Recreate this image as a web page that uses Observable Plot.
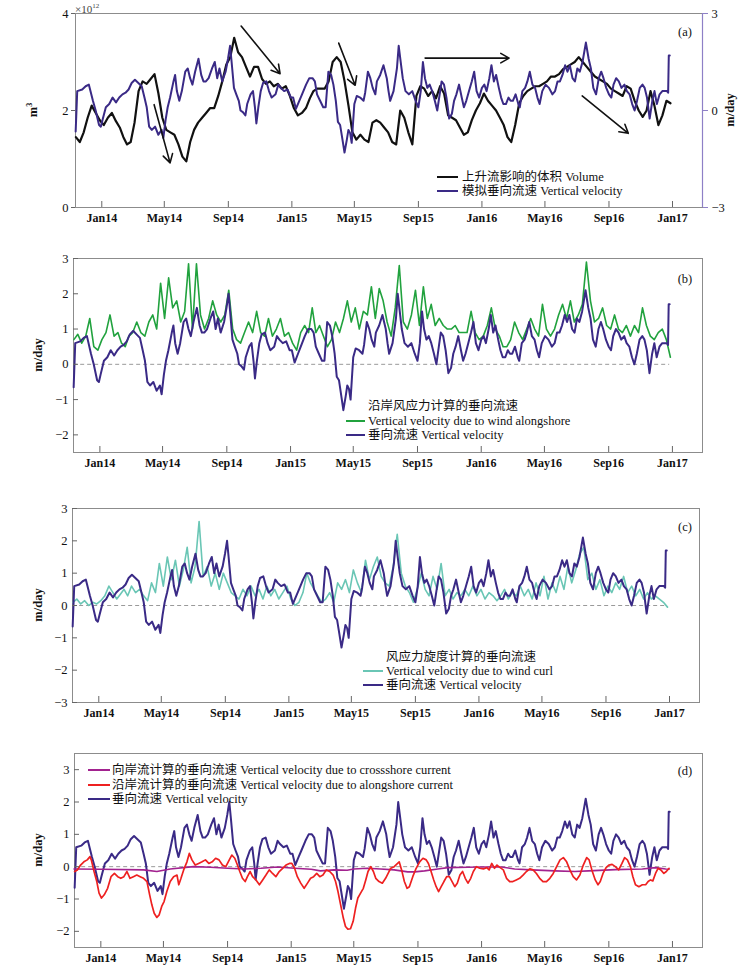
<!DOCTYPE html>
<html><head><meta charset="utf-8">
<script src="https://cdn.jsdelivr.net/npm/d3@7"></script>
<script src="https://cdn.jsdelivr.net/npm/@observablehq/plot@0.6"></script>
<style>
body{margin:0;background:#fff;}
#fig{position:relative;width:750px;height:973px;overflow:hidden;font-family:"Liberation Serif","Noto Sans CJK SC",serif;color:#111;}
.panel{position:absolute;left:0;}
.t{position:absolute;white-space:nowrap;font-size:12.5px;line-height:14px;}
.sw{display:inline-block;height:0;border-top:2px solid;vertical-align:middle;position:relative;top:-1px;}
.rot{position:absolute;white-space:nowrap;font-weight:bold;font-size:12.5px;transform:translate(-50%,-50%) rotate(-90deg);}
.pl{position:absolute;font-size:12.5px;transform:translate(-50%,-50%);}
</style></head>
<body>
<div id="fig"></div>
<script>
// ---------- time axis ----------
const xTickMonths = [0,4,8,12,16,20,24,28,32,36];
const xTickLabels = ["Jan14","May14","Sep14","Jan15","May15","Sep15","Jan16","May16","Sep16","Jan17"];
const xDomainMonths = [-1.65, 37.95];
// regular grid (months since Jan 2014) used by volume, wind-alongshore and wind-curl series
const gridStart = -1.625, gridStep = 0.25;

// ---------- series ----------
// (a) upwelling-influenced volume, 10^12 m^3
const volumeV = [1.45,1.35,1.55,1.85,2.1,1.95,1.8,1.7,1.85,1.95,
1.78,1.65,1.45,1.3,1.35,1.75,2.4,2.6,2.55,2.65,
2.75,2.35,1.85,1.6,1.55,1.5,1.3,1.05,0.95,1.35,
1.6,1.75,1.85,1.95,2.05,2.05,2.3,2.6,2.95,3.1,
3.5,3.2,3.1,2.9,2.7,2.9,2.9,2.65,2.55,2.6,
2.5,2.55,2.45,2.5,2.3,2.05,1.9,1.95,2.05,2.25,
2.4,2.45,2.45,2.45,2.6,3.0,3.1,3.0,2.6,2.1,
1.55,1.4,1.5,1.4,1.35,1.75,1.8,1.75,1.65,1.55,
1.35,1.3,2.0,1.85,1.55,1.3,2.3,2.5,2.45,2.3,
2.4,2.25,2.5,2.35,1.9,1.85,1.8,1.65,1.5,1.55,
1.8,2.0,2.15,2.35,2.2,2.1,2.0,1.85,1.7,1.45,
1.35,1.7,2.15,2.3,2.4,2.45,2.5,2.5,2.55,2.6,
2.7,2.7,2.75,2.85,2.9,2.95,3.0,3.1,3.0,2.9,
2.8,2.7,2.65,2.6,2.55,2.45,2.4,2.35,2.3,2.5,
2.45,2.2,2.0,1.87,2.0,2.4,2.1,1.7,1.9,2.2,
2.15];

// simulated vertical velocity (m/day), irregular sample times (months since Jan 2014)
const wT = [-1.64,-1.54,-1.22,-1.0,-0.8,-0.55,-0.38,-0.17,-0.06,0.04,
0.25,0.46,0.67,0.88,1.09,1.31,1.52,1.73,1.94,2.15,
2.36,2.57,2.74,2.88,3.03,3.2,3.41,3.62,3.83,3.94,
4.08,4.21,4.36,4.57,4.67,4.78,4.93,5.09,5.31,5.47,
5.62,5.77,5.94,6.15,6.32,6.46,6.61,6.78,6.99,7.16,
7.31,7.45,7.62,7.83,7.98,8.11,8.21,8.36,8.51,8.67,
8.78,8.93,9.09,9.2,9.41,9.56,9.68,9.77,9.89,10.04,
10.19,10.4,10.57,10.74,10.99,11.16,11.31,11.52,11.73,11.94,
12.08,12.25,12.46,12.63,12.88,13.09,13.31,13.47,13.62,13.83,
14.04,14.19,14.36,14.53,14.67,14.82,14.95,15.09,15.24,15.37,
15.52,15.62,15.73,15.83,16.0,16.15,16.36,16.57,16.67,16.84,
16.99,17.14,17.31,17.41,17.62,17.83,18.04,
18.15,18.25,18.46,18.67,18.78,18.88,19.03,19.2,19.41,19.62,
19.83,20.0,20.15,20.29,20.42,20.57,20.72,20.88,21.05,21.2,
21.35,21.47,21.62,21.77,21.94,22.11,22.25,22.4,22.57,22.74,
22.88,23.03,23.2,23.37,23.52,23.67,23.83,24.0,24.15,24.29,
24.46,24.59,24.74,24.88,25.05,25.2,25.35,25.52,25.69,25.83,
25.98,26.15,26.32,26.41,26.57,26.74,26.88,27.03,27.2,27.37,
27.52,27.66,27.83,28.04,28.25,28.46,28.63,28.78,28.93,29.09,
29.26,29.41,29.56,29.73,29.89,30.04,30.19,30.36,30.57,30.74,
30.88,31.03,31.2,31.37,31.52,31.66,31.83,32.0,32.15,32.29,
32.46,32.63,32.8,32.99,33.14,33.31,33.47,33.62,33.77,33.94,
34.11,34.25,34.4,34.57,34.74,34.88,35.03,35.2,35.37,35.52,
35.66,35.73,35.77,35.83];
const wV = [-0.65,0.6,0.65,0.75,0.8,0.3,0.0,-0.45,-0.5,-0.3,
0.1,0.2,0.4,0.25,0.4,0.5,0.55,0.65,0.85,0.95,
0.85,0.75,0.4,0.1,-0.5,-0.6,-0.5,-0.75,-0.6,-0.85,
-0.3,0.1,0.4,0.9,1.1,0.6,0.3,0.6,1.2,1.3,
1.0,0.8,1.2,1.6,1.1,0.9,0.9,1.0,1.3,1.5,
1.0,1.3,0.9,1.2,1.6,2.0,1.5,0.7,0.5,0.3,
0.0,-0.05,-0.15,0.2,0.5,0.6,0.1,-0.4,0.1,0.6,
0.85,0.9,0.6,0.4,0.5,0.8,0.7,0.6,0.65,0.4,
0.4,0.05,0.3,0.5,0.8,1.0,1.0,0.9,0.5,0.3,
0.1,0.1,1.2,1.1,0.8,0.3,-0.35,-0.45,-0.9,-1.3,
-0.9,-0.6,-0.7,-1.0,0.2,0.45,0.4,0.3,0.55,1.2,
1.0,0.7,0.5,0.9,1.1,1.4,1.0,
0.6,0.3,0.6,1.3,2.0,1.6,1.0,0.6,0.5,0.6,
0.3,0.1,0.6,1.5,1.0,0.7,0.8,0.6,0.3,0.0,
0.5,0.9,0.8,0.4,-0.25,-0.1,0.3,0.5,0.8,0.4,
0.1,0.3,0.6,0.9,1.2,0.6,0.4,0.7,0.8,0.6,
1.0,1.4,0.9,1.1,0.7,0.4,0.2,0.2,0.4,0.3,
0.3,0.5,0.2,0.1,0.6,0.7,0.9,1.2,0.8,0.7,
0.4,0.2,0.6,0.8,0.7,0.5,0.6,0.9,0.9,1.1,
1.4,1.2,1.4,1.0,0.9,1.3,1.2,1.5,2.1,1.6,
1.3,0.7,0.5,1.0,1.2,1.0,0.7,0.5,0.4,0.8,
1.0,0.9,0.7,0.8,0.6,0.5,0.2,0.0,0.3,0.7,
0.8,0.7,0.4,-0.25,0.3,0.6,0.2,0.5,0.6,0.6,
0.6,0.55,1.7,1.7];

// (b) vertical velocity due to alongshore wind (grid)
const windAlongV = [0.7,0.85,0.6,0.8,1.3,0.5,0.4,0.7,0.9,1.4,
0.8,0.9,0.6,0.5,0.8,0.9,1.2,0.9,0.8,1.2,
1.4,1.0,2.3,1.3,2.45,1.6,1.8,1.2,1.5,2.85,
1.0,2.85,1.4,1.0,1.3,1.8,1.4,1.2,1.4,2.1,
1.0,0.7,0.6,0.9,1.2,0.9,1.5,0.9,0.8,1.3,
0.8,1.0,1.3,0.8,0.9,0.6,0.4,0.9,1.1,0.9,
1.6,0.9,1.1,0.8,0.5,0.7,1.2,0.9,1.3,1.8,
1.2,1.6,1.0,1.5,1.4,2.2,1.3,2.15,1.8,1.2,
0.8,1.6,2.8,1.2,1.0,1.4,2.1,1.1,2.2,1.3,
1.7,1.1,1.3,1.1,1.0,1.0,1.1,0.9,0.9,0.9,
1.5,0.9,0.7,0.8,1.1,1.6,1.0,0.8,0.5,0.5,
0.7,1.2,0.9,0.7,1.0,1.3,1.0,0.8,1.7,1.0,
0.8,1.0,1.4,1.7,1.3,1.8,1.2,1.4,1.7,2.9,
1.8,1.2,1.3,1.6,1.1,1.0,1.4,1.0,0.9,1.1,
0.8,1.1,0.9,1.6,1.1,0.8,0.7,0.9,1.0,0.7,
0.2];

// (c) vertical velocity due to wind curl (grid)
const windCurlV = [0.1,0.2,0.05,0.15,0.0,0.1,0.05,0.15,0.3,0.6,
0.4,0.2,0.35,0.5,0.3,0.6,0.4,0.5,0.3,0.15,
0.7,0.4,1.3,0.6,1.5,0.8,1.4,0.6,1.1,1.8,
0.7,1.2,2.6,0.9,1.2,0.6,1.0,0.5,1.0,0.7,
0.4,0.3,0.2,0.5,0.3,0.6,0.3,0.5,0.2,0.6,
0.3,0.5,0.2,0.4,0.6,0.2,0.0,0.1,0.4,1.0,
0.7,0.5,0.3,0.1,0.2,0.4,0.1,0.7,0.5,0.8,
0.4,1.1,0.7,0.4,1.4,0.8,1.2,1.5,0.9,0.7,
0.6,1.2,2.2,1.0,0.6,0.4,0.1,0.5,1.0,0.5,
0.3,0.9,0.5,1.3,0.3,0.5,0.2,0.4,0.3,0.5,
0.3,0.6,0.3,0.5,0.2,0.4,0.3,0.15,0.3,0.5,
0.2,0.4,0.3,0.6,0.3,0.5,0.2,0.7,0.3,0.9,
0.2,0.7,0.4,0.9,0.5,1.2,0.7,1.1,1.6,1.8,
0.8,1.0,0.5,0.8,0.3,0.6,0.4,0.7,0.5,0.9,
0.4,0.6,0.3,0.5,0.2,0.4,0.2,0.3,0.2,0.1,
-0.05];

// (d) vertical velocity due to crossshore current
const crossT = [-1.68,0,2.74,3.58,4.42,5.89,6.95,8.0,9.05,10.1,11.16,12.21,13.26,13.89,14.74,15.58,16.0,16.84,17.68,
18.53,19.37,19.79,20.42,21.26,21.89,23.16,24.0,25.26,26.11,27.16,28.63,29.89,30.74,32.42,34.11,34.95,35.58,35.79];
const crossV = [-0.07,-0.08,-0.1,-0.15,-0.07,0.0,-0.02,-0.05,-0.07,-0.05,-0.01,-0.05,-0.08,-0.13,-0.1,-0.11,-0.07,-0.05,-0.07,
-0.1,-0.16,-0.16,-0.13,-0.07,-0.03,-0.02,-0.01,-0.01,-0.07,-0.1,-0.13,-0.15,-0.13,-0.09,-0.07,-0.03,-0.07,-0.08];

// (d) vertical velocity due to alongshore current
const alongT = [-1.64,-1.47,-1.26,-1.05,-0.84,-0.67,-0.59,-0.42,-0.25,-0.11,
0.04,0.21,0.42,0.63,0.84,1.05,1.26,1.47,1.68,1.89,
2.11,2.32,2.53,2.74,2.95,3.12,3.26,3.41,3.58,3.73,
3.89,4.04,4.21,4.42,4.63,4.84,4.95,5.09,5.26,5.47,
5.62,5.79,6.0,6.21,6.42,6.63,6.84,7.05,7.26,7.47,
7.68,7.89,8.11,8.27,8.46,8.63,8.78,8.95,9.12,9.26,
9.43,9.58,9.79,10.0,10.21,10.42,10.63,10.84,11.05,11.26,
11.47,11.68,11.89,12.04,12.21,12.38,12.59,12.8,13.01,13.22,
13.43,13.64,13.85,14.06,14.27,14.48,14.69,14.84,14.99,15.16,
15.33,15.47,15.62,15.79,15.96,16.11,16.25,16.42,16.59,16.74,
16.88,17.05,17.22,17.37,17.58,17.79,18.0,18.21,
18.32,18.53,18.74,18.84,18.99,19.16,19.33,19.47,19.68,19.89,
20.11,20.32,20.53,20.67,20.84,21.01,21.16,21.31,21.47,21.64,
21.81,21.98,22.15,22.32,22.48,22.65,22.82,22.99,23.16,23.33,
23.49,23.68,23.89,24.11,24.32,24.47,24.63,24.8,24.95,25.16,
25.37,25.58,25.79,26.0,26.21,26.42,26.63,26.84,27.05,27.26,
27.47,27.68,27.89,28.11,28.32,28.53,28.74,28.95,29.16,29.37,
29.58,29.79,30.0,30.21,30.42,30.63,30.78,30.95,31.16,31.33,
31.47,31.64,31.83,32.0,32.21,32.42,32.63,32.84,33.01,33.18,
33.37,33.52,33.68,33.89,34.11,34.32,34.48,34.63,34.78,34.95,
35.11,35.28,35.47,35.62,35.79];
const alongV = [-0.15,-0.1,0.05,0.15,0.21,0.31,0.21,-0.15,-0.46,-0.82,
-0.97,-0.87,-0.67,-0.31,-0.21,-0.31,-0.36,-0.31,-0.15,-0.36,
-0.31,-0.26,-0.31,-0.36,-0.46,-0.87,-1.18,-1.44,-1.57,-1.49,
-1.23,-1.08,-0.77,-0.46,-0.31,-0.26,-0.56,-0.36,-0.1,0.15,
0.41,0.21,0.05,0.1,0.15,0.21,0.1,0.15,0.26,0.21,
0.05,0.0,0.21,0.36,0.26,0.05,-0.15,-0.36,-0.46,-0.31,
-0.15,-0.31,-0.41,-0.56,-0.41,-0.26,-0.1,-0.21,-0.31,-0.15,
-0.05,0.05,0.1,0.1,-0.05,-0.31,-0.51,-0.67,-0.51,-0.36,
-0.31,-0.21,-0.31,-0.26,-0.1,-0.15,-0.26,-0.46,-0.77,-1.18,
-1.59,-1.85,-1.93,-1.92,-1.69,-1.28,-0.97,-0.82,-0.67,-0.41,
-0.15,0.0,-0.15,-0.36,-0.46,-0.51,-0.36,-0.15,
-0.05,0.0,0.1,0.15,-0.1,-0.46,-0.67,-0.62,-0.31,-0.05,
0.15,0.26,0.21,0.1,-0.15,-0.41,-0.62,-0.77,-0.62,-0.46,
-0.31,-0.31,-0.46,-0.62,-0.51,-0.26,-0.15,-0.36,-0.51,-0.36,
-0.15,0.0,-0.05,-0.07,-0.03,-0.1,0.1,-0.05,0.05,-0.03,
-0.1,-0.36,-0.46,-0.46,-0.41,-0.36,-0.26,-0.15,-0.07,-0.1,
-0.21,-0.36,-0.46,-0.46,-0.36,-0.21,0.0,0.21,0.28,0.15,
-0.1,-0.31,-0.41,-0.26,0.05,0.28,0.21,-0.1,-0.41,-0.56,
-0.46,-0.21,-0.03,0.05,0.07,0.0,-0.1,0.1,0.28,0.21,
0.0,-0.31,-0.56,-0.62,-0.56,-0.56,-0.46,-0.41,-0.44,-0.21,
-0.05,-0.1,-0.21,-0.15,-0.05];

// annotation arrows in panel (a): months, volume units
const arrowX1 = [3.35, 8.82, 15.0, 20.43, 30.34];
const arrowY1 = [2.12, 3.74, 3.39, 3.08, 2.30];
const arrowX2 = [4.36, 11.27, 16.05, 25.73, 33.23];
const arrowY2 = [0.92, 2.76, 2.52, 3.08, 1.53];

// axis ticks
const volTicks = [0, 2, 4];
const volDomain = [0, 4];
const wRightDomain = [-3, 3];
const wRightLabels = ["\u22123", "0", "3"];
const ticksB = [-2,-1,0,1,2,3], domainB = [-2.5, 3];
const ticksC = [-3,-2,-1,0,1,2,3], domainC = [-3, 3];
const ticksD = [-2,-1,0,1,2,3], domainD = [-2.5, 3.5];

// ---------- helpers ----------
const base = new Date(Date.UTC(2014, 0, 1));
function mToDate(m) {
  const i = Math.floor(m), f = m - i;
  const a = d3.utcMonth.offset(base, i), b = d3.utcMonth.offset(base, i + 1);
  return new Date(+a + f * (b - a));
}
const xDomain = xDomainMonths.map(mToDate);
const xTickDates = xTickMonths.map(mToDate);
const tickLabelMap = new Map(xTickDates.map((d, i) => [+d, xTickLabels[i]]));
const gridT = volumeV.map((_, i) => gridStart + gridStep * i);

const series = (T, V) => V.map((v, i) => ({t: mToDate(T[i]), v}));
const volumeData = series(gridT, volumeV);
const wData = series(wT, wV);
const windAlongData = series(gridT, windAlongV);
const windCurlData = series(gridT, windCurlV);
const crossData = series(crossT, crossV);
const alongData = series(alongT, alongV);
const zeroSpan = [{y: 0, a: mToDate(wT[0]), b: mToDate(wT[wT.length - 1])}];
// vertical velocity re-expressed on the volume scale (right axis of panel a)
const toLeft = v => volDomain[0] + (v - wRightDomain[0]) / (wRightDomain[1] - wRightDomain[0]) * (volDomain[1] - volDomain[0]);
const wDataA = wData.map(d => ({t: d.t, v: toLeft(d.v)}));
const arrows = arrowX1.map((x, i) => ({x1: mToDate(x), y1: arrowY1[i], x2: mToDate(arrowX2[i]), y2: arrowY2[i]}));

const C = {black:"#111", purple:"#3a2a86", green:"#21a23e", teal:"#6ac6b5", red:"#ee2020", magenta:"#a2228f",
           zero:"#9a9a9a", frame:"#8c8c8c", axisR:"#8e80c6"};

function panel(ml, mr, yDomain, yTicks, marks, extra = []) {
  return Plot.plot({
    width: 750, height: 239,
    marginLeft: ml, marginRight: mr, marginTop: 15, marginBottom: 30,
    style: {fontFamily: '"Liberation Serif", serif', fontSize: "12.5px", color: "#111", background: "transparent", overflow: "visible"},
    x: {type: "utc", domain: xDomain, label: null},
    y: {domain: yDomain, label: null},
    marks: [
      Plot.frame({stroke: C.frame}),
      ...marks,
      Plot.axisX(xTickDates, {tickSize: -6, tickPadding: 12, tickFormat: d => tickLabelMap.get(+d), fontWeight: "bold", fontSize: 12, stroke: "#666", fill: "#111", label: null}),
      Plot.axisY(yTicks, {tickSize: -5, tickPadding: 10, stroke: "#666", fill: "#111", label: null}),
      ...extra
    ]
  });
}

const fig = document.getElementById("fig");
function place(el, top) { const d = document.createElement("div"); d.className = "panel"; d.style.top = top + "px"; d.appendChild(el); fig.appendChild(d); }

// (a)
place(Plot.plot({
  width: 750, height: 239,
  marginLeft: 75, marginRight: 48, marginTop: 15, marginBottom: 30,
  style: {fontFamily: '"Liberation Serif", serif', fontSize: "12.5px", color: "#111", background: "transparent", overflow: "visible"},
  x: {type: "utc", domain: xDomain, label: null},
  y: {domain: volDomain, label: null},
  marks: [
    Plot.frame({stroke: C.frame}),
    Plot.ruleX([xDomain[1]], {stroke: C.axisR, strokeWidth: 1.2}),
    Plot.lineY(volumeData, {x: "t", y: "v", stroke: C.black, strokeWidth: 2.2}),
    Plot.lineY(wDataA, {x: "t", y: "v", stroke: C.purple, strokeWidth: 2}),
    Plot.arrow(arrows, {x1: "x1", y1: "y1", x2: "x2", y2: "y2", stroke: C.black, strokeWidth: 1.6, headLength: 9}),
    Plot.axisX(xTickDates, {tickSize: -6, tickPadding: 12, tickFormat: d => tickLabelMap.get(+d), fontWeight: "bold", fontSize: 12, stroke: "#666", fill: "#111", label: null}),
    Plot.axisY(volTicks, {tickSize: 4, tickPadding: 3, stroke: "#666", fill: "#111", label: null}),
    Plot.axisY(volTicks, {anchor: "right", tickSize: 5, tickPadding: 4, stroke: C.axisR, fill: "#111", label: null,
      tickFormat: d => wRightLabels[volTicks.indexOf(d)]})
  ]
}), -2);

// (b)
place(panel(73, 48, domainB, ticksB, [
  Plot.ruleY(zeroSpan, {y: "y", x1: "a", x2: "b", stroke: C.zero, strokeDasharray: "4,3"}),
  Plot.lineY(windAlongData, {x: "t", y: "v", stroke: C.green, strokeWidth: 1.6}),
  Plot.lineY(wData, {x: "t", y: "v", stroke: C.purple, strokeWidth: 2})
]), 242.5);

// (c)
place(panel(72, 51, domainC, ticksC, [
  Plot.ruleY(zeroSpan, {y: "y", x1: "a", x2: "b", stroke: C.zero, strokeDasharray: "4,3"}),
  Plot.lineY(windCurlData, {x: "t", y: "v", stroke: C.teal, strokeWidth: 1.6}),
  Plot.lineY(wData, {x: "t", y: "v", stroke: C.purple, strokeWidth: 2})
]), 492.7);

// (d)
place(panel(74, 48, domainD, ticksD, [
  Plot.ruleY(zeroSpan, {y: "y", x1: "a", x2: "b", stroke: C.zero, strokeDasharray: "4,3"}),
  Plot.lineY(wData, {x: "t", y: "v", stroke: C.purple, strokeWidth: 2}),
  Plot.lineY(crossData, {x: "t", y: "v", stroke: C.magenta, strokeWidth: 1.6}),
  Plot.lineY(alongData, {x: "t", y: "v", stroke: C.red, strokeWidth: 1.7})
]), 738.3);

// ---------- text: axis titles, panel tags, legends ----------
function txt(html, cls, x, y, extraStyle = "") {
  const d = document.createElement("div"); d.className = cls; d.innerHTML = html;
  d.style.left = x + "px"; d.style.top = y + "px"; if (extraStyle) d.style.cssText += extraStyle; fig.appendChild(d); return d;
}
function legendRow(color, w, gap, label, x, yc) {
  txt(`<span class="sw" style="width:${w}px;border-color:${color};margin-right:${gap}px"></span>${label}`, "t", x, yc - 7);
}
txt("m<sup style='font-size:8px'>3</sup>", "rot", 33, 110);
txt("m/day", "rot", 730, 110);
txt("m/day", "rot", 38, 355);
txt("m/day", "rot", 38, 605);
txt("m/day", "rot", 38, 850);
txt("\u00d710<sup style='font-size:7px'>12</sup>", "t", 75, -1, "font-size:11px;color:#444;");
txt("(a)", "pl", 685, 32); txt("(b)", "pl", 685, 279); txt("(c)", "pl", 685, 527); txt("(d)", "pl", 685, 771);

legendRow(C.black, 21, 4, "上升流影响的体积 Volume", 437, 177);
legendRow(C.purple, 21, 4, "模拟垂向流速 Vertical velocity", 437, 191);

txt("沿岸风应力计算的垂向流速", "t", 368, 399);
legendRow(C.green, 19, 3, "Vertical velocity due to wind alongshore", 346, 421);
legendRow(C.purple, 19, 3, "垂向流速 Vertical velocity", 346, 435);

txt("风应力旋度计算的垂向流速", "t", 386, 650);
legendRow(C.teal, 20, 3, "Vertical velocity due to wind curl", 363, 671);
legendRow(C.purple, 20, 3, "垂向流速 Vertical velocity", 363, 685);

legendRow(C.magenta, 22, 2, "向岸流计算的垂向流速 Vertical velocity due to crossshore current", 88, 770);
legendRow(C.red, 22, 2, "沿岸流计算的垂向流速 Vertical velocity due to alongshore current", 88, 784.5);
legendRow(C.purple, 22, 2, "垂向流速 Vertical velocity", 88, 798.5);
</script>
</body></html>
